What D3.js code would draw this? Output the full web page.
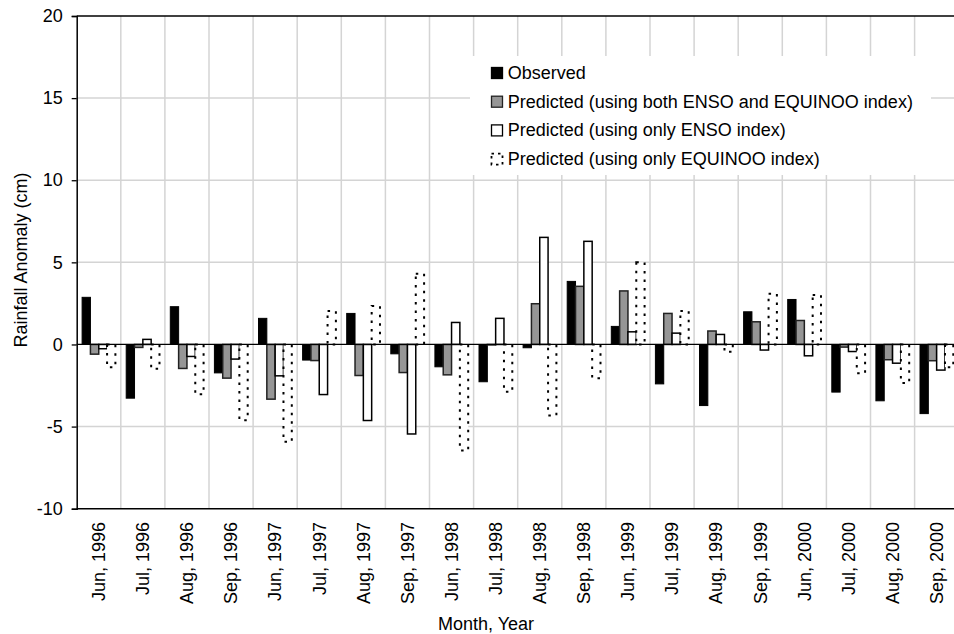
<!DOCTYPE html>
<html>
<head>
<meta charset="utf-8">
<script src="https://cdn.jsdelivr.net/npm/d3@7"></script>
<style>
  body { margin: 0; background: #fff; }
  text { font-family: "Liberation Sans", Arial, sans-serif; fill: #000; }
</style>
</head>
<body>
<script>
"use strict";
var categories = ["Jun, 1996", "Jul, 1996", "Aug, 1996", "Sep, 1996", "Jun, 1997", "Jul, 1997", "Aug, 1997", "Sep, 1997",
    "Jun, 1998", "Jul, 1998", "Aug, 1998", "Sep, 1998", "Jun, 1999", "Jul, 1999", "Aug, 1999", "Sep, 1999",
    "Jun, 2000", "Jul, 2000", "Aug, 2000", "Sep, 2000"];
var observed = [2.87, -3.27, 2.30, -1.73, 1.59, -0.95, 1.89, -0.57, -1.36, -2.27, -0.20, 3.84, 1.10, -2.40, -3.72, 1.99, 2.74, -2.90, -3.43, -4.21];
var predBoth = [-0.59, -0.18, -1.46, -2.05, -3.33, -0.98, -1.89, -1.71, -1.85, -0.03, 2.48, 3.54, 3.26, 1.89, 0.82, 1.38, 1.46, -0.16, -0.93, -0.99];
var predEnso = [-0.26, 0.31, -0.73, -0.89, -1.91, -3.05, -4.63, -5.45, 1.34, 1.59, 6.52, 6.28, 0.77, 0.69, 0.61, -0.34, -0.69, -0.43, -1.14, -1.56];
var predEquinoo = [-1.38, -1.48, -3.03, -4.61, -5.93, 2.04, 2.34, 4.31, -6.46, -2.88, -4.33, -2.05, 5.00, 2.04, -0.45, 3.09, 3.01, -1.75, -2.34, -1.38];
var seriesNames = ["Observed", "Predicted (using both ENSO and EQUINOO index)", "Predicted (using only ENSO index)", "Predicted (using only EQUINOO index)"];
var yTicks = [-10, -5, 0, 5, 10, 15, 20];

var width = 954;
var height = 634;
var plotLeft = 76.7, plotRight = 958.7, plotTop = 16, plotBottom = 508.7;

// one style per series: black, gray, white, dotted outline
var styles = [
    { fill: "#000", stroke: "#000", sw: 1, dash: null },
    { fill: "#969696", stroke: "#222", sw: 1.5, dash: null },
    { fill: "#fff", stroke: "#000", sw: 1.5, dash: null },
    { fill: "#fff", stroke: "#000", sw: 2, dash: "2.5,6" }
];
var seriesValues = [observed, predBoth, predEnso, predEquinoo];

var svg = d3.select("body").append("svg")
    .attr("width", width)
    .attr("height", height);

var x = d3.scaleBand().domain(categories).range([plotLeft, plotRight]).padding(0);
var xs = d3.scaleBand().domain(d3.range(4)).range([0, x.bandwidth()]).paddingInner(0).paddingOuter(0.65);
var y = d3.scaleLinear().domain([-10, 20]).range([plotBottom, plotTop]);

// grid
var grid = svg.append("g").attr("class", "grid");
grid.selectAll("line.h")
    .data(yTicks.filter(function (t) { return t !== 0 && t !== -10 && t !== 20; }))
    .enter().append("line")
    .attr("class", "h")
    .attr("x1", plotLeft).attr("x2", width)
    .attr("y1", function (d) { return y(d); })
    .attr("y2", function (d) { return y(d); })
    .attr("stroke", "#d4d4d4")
    .attr("stroke-width", 1.5);
grid.selectAll("line.v")
    .data(categories.slice(1))
    .enter().append("line")
    .attr("class", "v")
    .attr("x1", function (d) { return x(d); })
    .attr("x2", function (d) { return x(d); })
    .attr("y1", plotTop).attr("y2", plotBottom)
    .attr("stroke", "#d4d4d4")
    .attr("stroke-width", 1.5);

// legend background hides the grid behind it
svg.append("rect")
    .attr("x", 470).attr("y", 56)
    .attr("width", 461).attr("height", 119)
    .attr("fill", "#fff");

// bars
var barData = [];
seriesValues.forEach(function (vals, s) {
    vals.forEach(function (v, i) {
        barData.push({ s: s, cat: categories[i], v: v });
    });
});
svg.append("g").attr("class", "bars")
    .selectAll("rect")
    .data(barData)
    .enter().append("rect")
    .attr("x", function (d) { return x(d.cat) + xs(d.s); })
    .attr("width", xs.bandwidth())
    .attr("y", function (d) { return y(Math.max(0, d.v)); })
    .attr("height", function (d) { return Math.abs(y(d.v) - y(0)); })
    .attr("fill", function (d) { return styles[d.s].fill; })
    .attr("stroke", function (d) { return styles[d.s].stroke; })
    .attr("stroke-width", function (d) { return styles[d.s].sw; })
    .attr("stroke-dasharray", function (d) { return styles[d.s].dash; });

// zero line
svg.append("line")
    .attr("x1", plotLeft).attr("x2", width)
    .attr("y1", y(0)).attr("y2", y(0))
    .attr("stroke", "#000").attr("stroke-width", 1.3);

// frame: top and bottom lines
svg.append("line")
    .attr("x1", plotLeft).attr("x2", width)
    .attr("y1", plotTop).attr("y2", plotTop)
    .attr("stroke", "#000").attr("stroke-width", 1.5);
svg.append("line")
    .attr("x1", plotLeft).attr("x2", width)
    .attr("y1", plotBottom).attr("y2", plotBottom)
    .attr("stroke", "#000").attr("stroke-width", 1.5);

// y axis (plain hyphen for negatives, like the original)
var yAxis = d3.axisLeft(y).tickValues(yTicks).tickSize(5).tickPadding(9)
    .tickFormat(function (d) { return String(d); });
var gy = svg.append("g")
    .attr("transform", "translate(" + plotLeft + ",0)")
    .call(yAxis);
gy.select(".domain").attr("stroke", "#000").attr("stroke-width", 1.5);
gy.selectAll(".tick line").attr("stroke", "#000").attr("stroke-width", 1.3);
gy.selectAll(".tick text")
    .style("font-family", "'Liberation Sans', Arial, sans-serif")
    .style("font-size", "18px")
    .attr("fill", "#000");

// x labels
svg.append("g").attr("class", "xlabels")
    .selectAll("text")
    .data(categories)
    .enter().append("text")
    .attr("transform", function (d) {
        return "translate(" + (x(d) + x.bandwidth() / 2) + "," + 522 + ") rotate(-90)";
    })
    .attr("text-anchor", "end")
    .attr("dy", "0.35em")
    .style("font-size", "18px")
    .text(function (d) { return d; });

// axis titles
svg.append("text")
    .attr("x", 486).attr("y", 630)
    .attr("text-anchor", "middle")
    .style("font-size", "18px")
    .text("Month, Year");
svg.append("text")
    .attr("transform", "translate(27," + 260 + ") rotate(-90)")
    .attr("text-anchor", "middle")
    .style("font-size", "18px")
    .text("Rainfall Anomaly (cm)");

// legend
var legend = svg.append("g").attr("class", "legend")
    .selectAll("g")
    .data(seriesNames)
    .enter().append("g")
    .attr("transform", function (d, i) { return "translate(491," + (67 + i * 28.7) + ")"; });
legend.append("rect")
    .attr("x", 0.5).attr("y", 0.5)
    .attr("width", 11).attr("height", 11)
    .attr("fill", function (d, i) { return styles[i].fill; })
    .attr("stroke", function (d, i) { return styles[i].stroke; })
    .attr("stroke-width", function (d, i) { return i === 3 ? 1.8 : 1.3; })
    .attr("stroke-dasharray", function (d, i) { return i === 3 ? "2.5,4" : null; });
legend.append("text")
    .attr("x", 16.7).attr("y", 12)
    .style("font-size", "18px")
    .text(function (d) { return d; });
</script>
</body>
</html>
